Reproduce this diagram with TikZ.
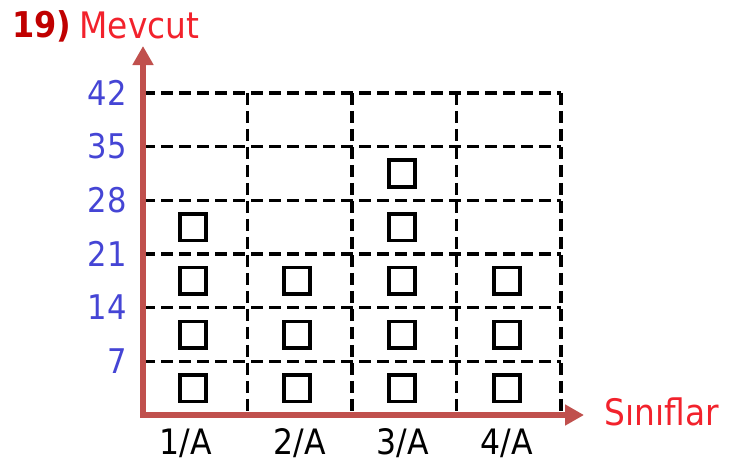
\documentclass[tikz,border=0pt]{standalone}
\usepackage{fontspec}
\setmainfont{DejaVu Sans Condensed}
\usetikzlibrary{arrows.meta}
\definecolor{axisred}{HTML}{C0504D}
\definecolor{numblue}{HTML}{4545D5}
\definecolor{titlered}{HTML}{F2222C}
\definecolor{darkred}{HTML}{C00000}

\begin{document}
\begin{tikzpicture}[
            x=1pt, y=-1pt,
            gridline/.style={draw=black, line width=3.4pt, dash pattern=on 12pt off 6pt},
            axis/.style={draw=axisred, line width=6pt, -{Triangle[length=19pt,width=20pt]}},
            box/.style={draw, line width=3.6pt, minimum size=26.5pt, inner sep=0pt},
            ylabel/.style={text=numblue, anchor=east, font=\fontsize{34}{36}\selectfont},
            xlabel/.style={text=black, font=\fontsize{35}{36}\selectfont},
            title/.style={text=titlered, anchor=west, font=\fontsize{36.5}{38}\selectfont}]
        \useasboundingbox (0,0) rectangle (729,466);
        \coordinate (O) at (143,415);
        \coordinate (ytop) at (143,46);
        \coordinate (xend) at (584,415);
        % grid
        \foreach \i in {1,...,6}
            \draw[gridline] (143,415-53.7*\i) -- (561,415-53.7*\i);
        \foreach \i in {1,...,4}
            \draw[gridline] (143+104.5*\i,92.8) -- (143+104.5*\i,415);
        % axes
        \draw[axis] (O) -- (ytop);
        \draw[axis] ([xshift=-3pt]O) -- (xend);
        % counts
        \foreach \c/\cx/\n in {1/193/4, 2/297/3, 3/402/5, 4/507/3}
            \foreach \r in {1,...,\n}
                \node[box] (sq-\c-\r) at (\cx,415-53.7*\r+27) {};
        \foreach \v [count=\i] in {7,14,21,28,35,42}
            \node[ylabel] (y-\i) at (130,415-53.7*\i) {\v};
        \foreach \c/\cx in {1/186, 2/300, 3/403, 4/507}
            \node[xlabel] (x-\c) at (\cx,443) {\c/A};
        \node[anchor=west, text=darkred, font=\fontsize{35.5}{38}\selectfont\bfseries] (num) at (9,26) {19)};
        \node[title] (mevcut) at (76,25) {Mevcut};
        \node[title] (siniflar) at (601,412) {Sınıflar};
\end{tikzpicture}
\end{document}
